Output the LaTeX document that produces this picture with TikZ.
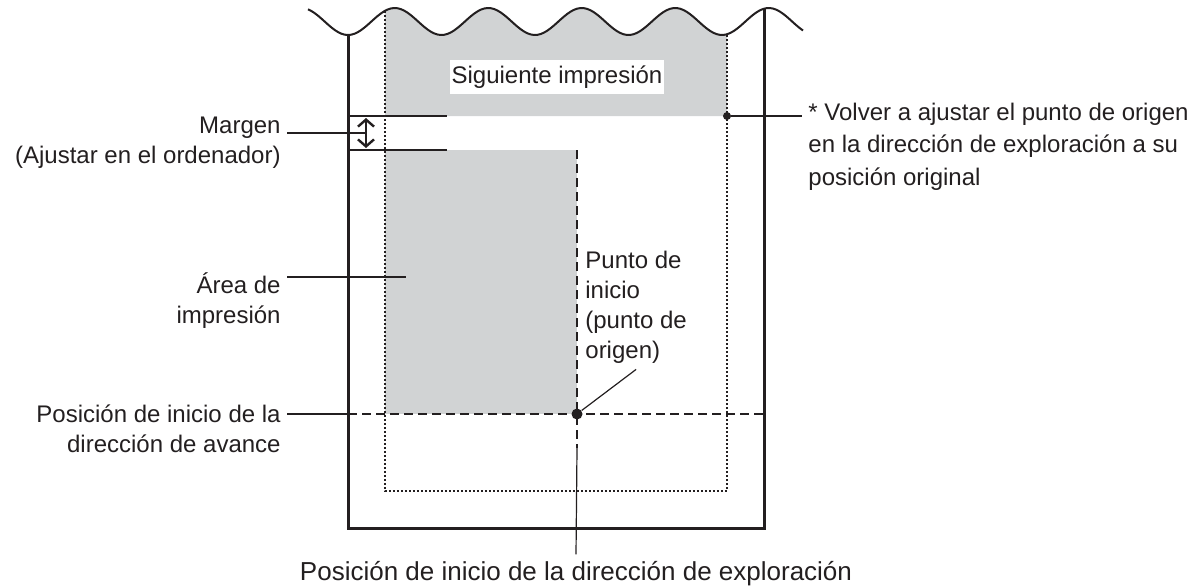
\documentclass[tikz,border=0pt]{standalone}
\usepackage{fontspec}
\setmainfont{Liberation Sans}
\usetikzlibrary{arrows.meta}
\definecolor{gris}{HTML}{D1D3D4}
\definecolor{tinta}{HTML}{231F20}

\begin{document}
\begin{tikzpicture}[x=0.5pt,y=-0.5pt,
  font=\fontsize{12}{15}\selectfont,color=tinta,
  declare function={onda(\x)=21.5-13.5*cos(3.85027*(\x-394.75));},
  etiqueta/.style={inner sep=3pt},
  punto/.style={circle,fill=tinta,inner sep=0pt,minimum size=#1},
  guia/.style={line width=0.6pt},
  borde/.style={line width=1.5pt},
  punteado/.style={line width=0.6pt,dash pattern=on 1pt off 1pt},
  discontinua/.style={line width=0.9pt,dash pattern=on 4.5pt off 2.5pt},
  margenflecha/.style={line width=1.2pt,{Straight Barb[length=3.5pt,width=8pt]}-{Straight Barb[length=3.5pt,width=8pt]}}]
\useasboundingbox (0,0) rectangle (1202,585);

\fill[gris] plot[domain=385:727,samples=80] (\x,{onda(\x)}) -- (727,116) -- (385,116) -- cycle;
\fill[gris] (385,150) rectangle (577,414);
\draw[punteado] (385,{onda(385)}) -- (385,491) -- (727,491) -- (727,{onda(727)});
\draw[line width=1pt] plot[domain=308:803,samples=150,smooth] (\x,{onda(\x)});
\draw[borde] (348,{onda(348)}) -- (348,528) -- (764,528) -- (764,{onda(764)});

\coordinate (margenArriba) at (348,116);
\coordinate (margenAbajo) at (348,150);
\draw[guia] (margenArriba) -- ++(99,0);
\draw[guia] (margenAbajo) -- ++(99,0);
\coordinate (flechaA) at (366,118);
\coordinate (flechaB) at (366,148);
\draw[margenflecha] (flechaA) -- (flechaB);

\node[etiqueta,fill=white,inner xsep=1pt,minimum height=16pt] (siguiente) at (557,77) {Siguiente impresión};

\node[etiqueta,align=right,anchor=base east] (margen) at (287,163) {Margen\\(Ajustar en el ordenador)};
\coordinate (flecha) at (366,133);
\draw[guia] (margen.east |- flecha) -- (flecha);

\node[etiqueta,align=right,anchor=base east] (area) at (287,323) {Área de\\impresión};
\coordinate (areaFin) at (406,277);
\draw[guia] (area.east |- areaFin) -- (areaFin);

\coordinate (bordeIzq) at (348,414);
\coordinate (bordeDer) at (764,414);
\coordinate (cortePapel) at (577,150);
\coordinate (cambio) at (577,448);
\draw[discontinua] (bordeIzq) -- (bordeDer);
\draw[discontinua] (cortePapel) -- (cambio);
\node[punto=5.5pt] (origen) at (577,414) {};
\node[punto=4pt] (ajuste) at (727,116) {};

\node[etiqueta,align=right,anchor=base east] (avance) at (287,452) {Posición de inicio de la\\dirección de avance};
\draw[guia] (avance.east |- bordeIzq) -- (bordeIzq);

\node[etiqueta,anchor=base,font=\fontsize{13}{15}\selectfont] (exploracion) at (576,580) {Posición de inicio de la dirección de exploración};
\draw[guia] (cambio) -- (exploracion.north);

\node[etiqueta,align=left,anchor=base west] (inicio) at (579,358) {Punto de\\inicio\\(punto de\\origen)};
\draw[guia] (origen) -- (inicio.south);

\node[etiqueta,align=left,anchor=base west,font=\fontsize{12}{16.25}\selectfont] (nota) at (802,185) {* Volver a ajustar el punto de origen\\en la dirección de exploración a su\\posición original};
\draw[guia] (ajuste) -- (nota.west |- ajuste);
\end{tikzpicture}
\end{document}
